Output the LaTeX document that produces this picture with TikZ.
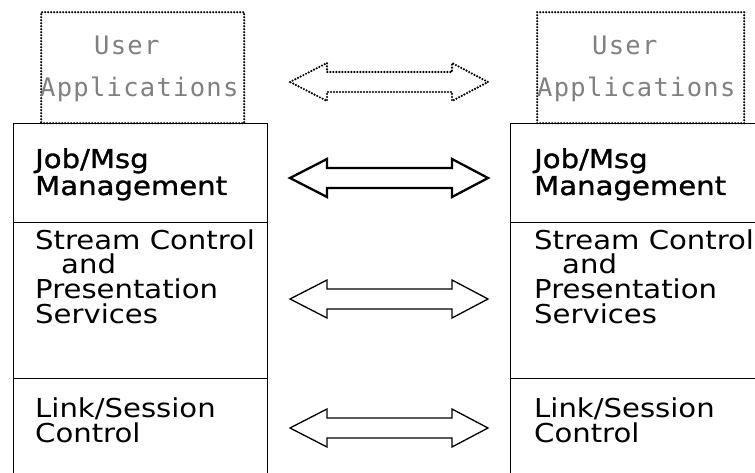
\documentclass[tikz,border=0pt]{standalone}
\usepackage{fontspec}
\setmainfont{DejaVu Sans}[FakeStretch=1.12]
\newfontfamily\monof{DejaVu Sans Mono}[LetterSpace=5]
\newfontfamily\boldf{DejaVu Sans}[FakeStretch=1.12,FakeBold=1.2]
\newcommand\dblarrow[2]{%
  \draw[#2] (290,#1) -- (327,#1-19) -- (327,#1-10) -- (452,#1-10) -- (452,#1-19)
    -- (488,#1) -- (452,#1+19) -- (452,#1+10) -- (327,#1+10) -- (327,#1+19) -- cycle;}
\tikzset{
  layer/.style={draw, line width=1.4pt, rectangle, inner sep=0pt, anchor=north west},
  dotbox/.style={draw, rectangle, inner sep=0pt, anchor=north west, line width=2.4pt,
    dash pattern=on 0pt off 3pt, line cap=round},
  lbl/.style={anchor=base west, inner sep=0pt, font=\fontsize{26}{26}\selectfont},
  jlbl/.style={anchor=base west, inner sep=0pt, font=\boldf\fontsize{26}{26}\selectfont},
  ulbl/.style={anchor=base west, inner sep=0pt, text=black!50, font=\monof\fontsize{25.5}{26}\selectfont},
  arr/.style={line width=1.3pt, line join=miter},
  jarr/.style={line width=2.3pt, line join=miter},
  darr/.style={line width=2.4pt, dash pattern=on 0pt off 3pt, line cap=round, line join=round},
}
\begin{document}
\begin{tikzpicture}[x=1pt,y=-1pt]
\useasboundingbox (0,0) rectangle (755,473);
\clip (0,0) rectangle (755,473);
% left stack
\node[dotbox, minimum width=203pt, minimum height=111pt] (UL) at (40,11) {};
\node[layer, minimum width=254pt, minimum height=99pt] (L1) at (13,123) {};
\node[layer, minimum width=254pt, minimum height=156pt] (L2) at (13,222) {};
\node[layer, minimum width=254pt, minimum height=115pt] (L3) at (13,378) {};
% right stack
\node[dotbox, minimum width=207pt, minimum height=111pt] (UR) at (536,11) {};
\node[layer, minimum width=260pt, minimum height=99pt] (R1) at (510,123) {};
\node[layer, minimum width=260pt, minimum height=156pt] (R2) at (510,222) {};
\node[layer, minimum width=260pt, minimum height=115pt] (R3) at (510,378) {};
% texts left
\node[ulbl] (ula) at (94,55) {User};
\node[ulbl] (ulb) at (40,97) {Applications};
\node[jlbl] (l1a) at (35,168) {Job/Msg};
\node[jlbl] (l1b) at (35,195) {Management};
\node[lbl] (l2a) at (35,250) {Stream Control};
\node[lbl] (l2b) at (61,273) {and};
\node[lbl] (l2c) at (35,298) {Presentation};
\node[lbl] (l2d) at (35,323) {Services};
\node[lbl] (l3a) at (35,417) {Link/Session};
\node[lbl] (l3b) at (35,442) {Control};
% texts right
\node[ulbl] (ura) at (592,55) {User};
\node[ulbl] (urb) at (537,97) {Applications};
\node[jlbl] (r1a) at (534,168) {Job/Msg};
\node[jlbl] (r1b) at (534,195) {Management};
\node[lbl] (r2a) at (534,250) {Stream Control};
\node[lbl] (r2b) at (562,273) {and};
\node[lbl] (r2c) at (534,298) {Presentation};
\node[lbl] (r2d) at (534,323) {Services};
\node[lbl] (r3a) at (534,417) {Link/Session};
\node[lbl] (r3b) at (534,442) {Control};
% peer arrows
\dblarrow{82}{darr}
\dblarrow{178}{jarr}
\dblarrow{299}{arr}
\dblarrow{428}{arr}
\end{tikzpicture}
\end{document}
